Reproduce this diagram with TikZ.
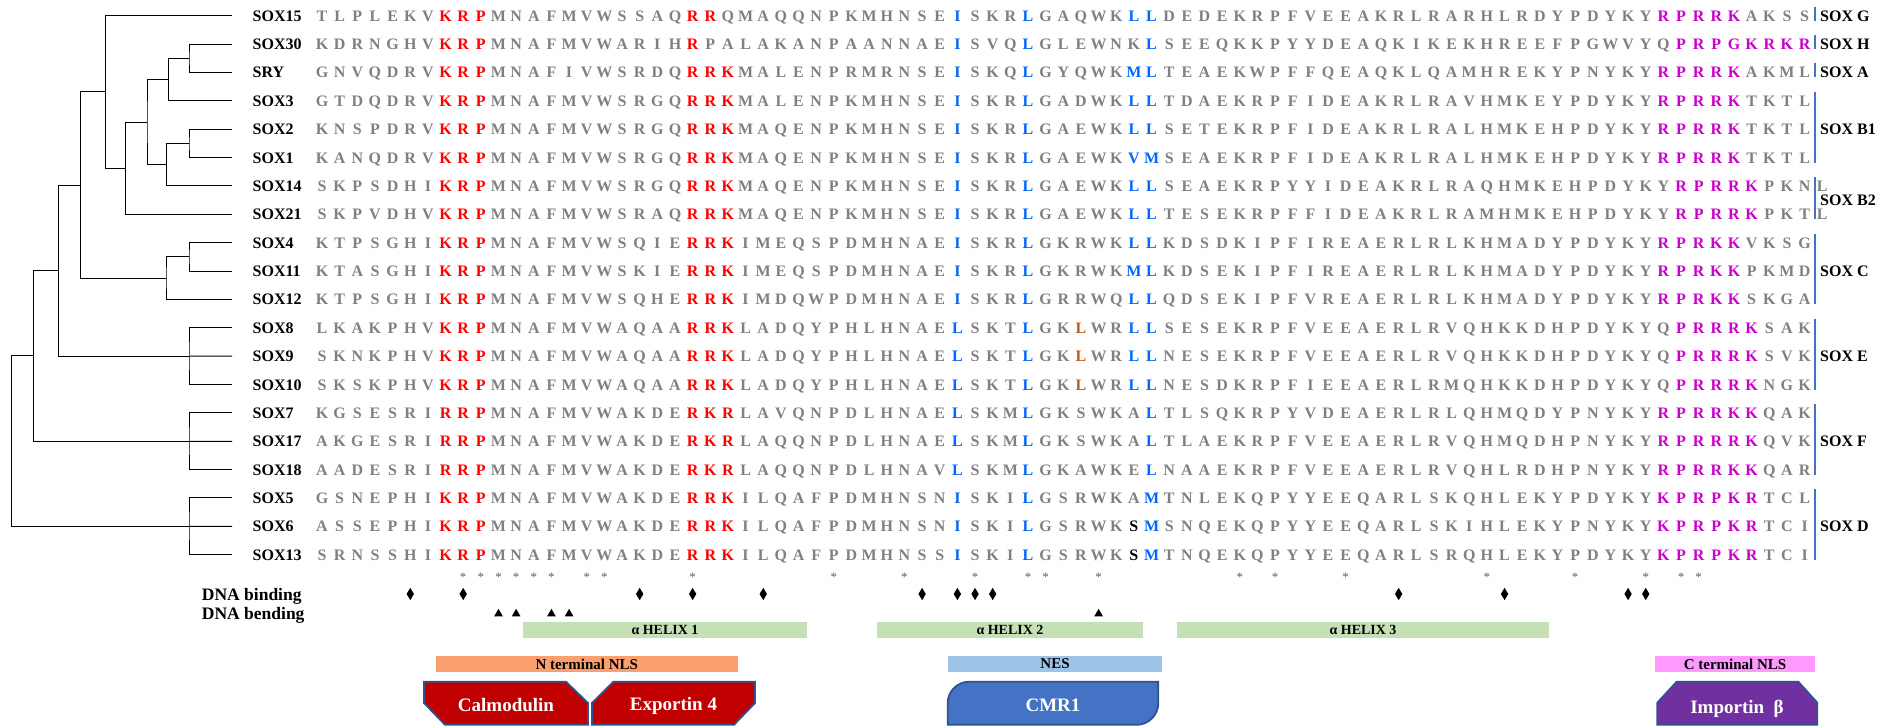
\documentclass[tikz,border=0pt]{standalone}
\usepackage{fontspec}
\setmainfont{Liberation Serif}
\usetikzlibrary{shapes.geometric}
\definecolor{cG}{RGB}{128,128,128}
\definecolor{cr}{RGB}{255,0,0}
\definecolor{cb}{RGB}{0,102,255}
\definecolor{cm}{RGB}{204,0,204}
\definecolor{co}{RGB}{197,90,17}
\definecolor{ck}{RGB}{0,0,0}
\definecolor{stargray}{RGB}{95,95,95}
\definecolor{barblue}{RGB}{68,114,196}
\definecolor{helixc}{RGB}{197,224,180}
\definecolor{nnlsc}{RGB}{250,160,110}
\definecolor{nesc}{RGB}{157,195,230}
\definecolor{cnlsc}{RGB}{255,153,255}
\definecolor{shapeedge}{RGB}{47,82,143}
\definecolor{calred}{RGB}{192,0,0}
\definecolor{cmrblue}{RGB}{68,114,196}
\definecolor{imppurple}{RGB}{112,48,160}
\def\rtok#1#2\relax{\ifx\relax#2\relax\def\rc{cG}\def\rl{#1}\else\def\rc{c#1}\def\rl{#2}\fi}
\newcommand\seqrow[3]{%
  \pgfmathsetmacro\ry{15.7+28.37*#1}%
  \node[lab] (n#2) at (252.5,\ry+5.5) {#2};%
  \foreach \t [count=\c] in {#3}{%
    \expandafter\rtok\t\relax
    \node[res,text=\rc] (r#1-\c) at ({322+(\c-1)*17.65},\ry+5.5) {\rl};%
  }%
}
\newcommand\colx[1]{322+(#1-1)*17.65}
\begin{document}
\begin{tikzpicture}[x=1pt,y=-1pt,
  res/.style={inner sep=0pt,anchor=base,font=\bfseries\fontsize{16}{16}\selectfont},
  lab/.style={inner sep=0pt,anchor=base west,font=\bfseries\fontsize{16}{16}\selectfont},
  grp/.style={inner sep=0pt,anchor=base west,font=\bfseries\fontsize{16}{16}\selectfont},
  asterisk/.style={inner sep=0pt,anchor=base,text=stargray,font=\fontsize{13}{13}\selectfont},
  dnab/.style={diamond,fill=black,inner sep=0pt,minimum width=7.5pt,minimum height=12.5pt},
  dnabend/.style={regular polygon,regular polygon sides=3,fill=black,inner sep=0pt,minimum size=10pt},
  tree/.style={line width=1pt,black},
  gbar/.style={line width=2pt,barblue},
  band/.style={inner sep=0pt,font=\bfseries\fontsize{14}{14}\selectfont,minimum height=16pt},
  nls/.style={inner sep=0pt,font=\bfseries\fontsize{15}{15}\selectfont,minimum height=16pt},
  shapetext/.style={text=white,inner sep=0pt,font=\bfseries\fontsize{19}{19}\selectfont},
  shp/.style={draw=shapeedge,line width=1.8pt},
  side/.style={inner sep=0pt,anchor=base west,font=\bfseries\fontsize{17.5}{17.5}\selectfont}]
\useasboundingbox (0,0) rectangle (1885,726);

% ---------------- sequences ----------------
\seqrow{0}{SOX15}{T,L,P,L,E,K,V,rK,rR,rP,M,N,A,F,M,V,W,S,S,A,Q,rR,rR,Q,M,A,Q,Q,N,P,K,M,H,N,S,E,bI,S,K,R,bL,G,A,Q,W,K,bL,bL,D,E,D,E,K,R,P,F,V,E,E,A,K,R,L,R,A,R,H,L,R,D,Y,P,D,Y,K,Y,mR,mP,mR,mR,mK,A,K,S,S}
\seqrow{1}{SOX30}{K,D,R,N,G,H,V,rK,rR,rP,M,N,A,F,M,V,W,A,R,I,H,rR,P,A,L,A,K,A,N,P,A,A,N,N,A,E,bI,S,V,Q,bL,G,L,E,W,N,K,bL,S,E,E,Q,K,K,P,Y,Y,D,E,A,Q,K,I,K,E,K,H,R,E,E,F,P,G,W,V,Y,Q,mP,mR,mP,mG,mK,mR,mK,mR}
\seqrow{2}{SRY}{G,N,V,Q,D,R,V,rK,rR,rP,M,N,A,F,I,V,W,S,R,D,Q,rR,rR,rK,M,A,L,E,N,P,R,M,R,N,S,E,bI,S,K,Q,bL,G,Y,Q,W,K,bM,bL,T,E,A,E,K,W,P,F,F,Q,E,A,Q,K,L,Q,A,M,H,R,E,K,Y,P,N,Y,K,Y,mR,mP,mR,mR,mK,A,K,M,L}
\seqrow{3}{SOX3}{G,T,D,Q,D,R,V,rK,rR,rP,M,N,A,F,M,V,W,S,R,G,Q,rR,rR,rK,M,A,L,E,N,P,K,M,H,N,S,E,bI,S,K,R,bL,G,A,D,W,K,bL,bL,T,D,A,E,K,R,P,F,I,D,E,A,K,R,L,R,A,V,H,M,K,E,Y,P,D,Y,K,Y,mR,mP,mR,mR,mK,T,K,T,L}
\seqrow{4}{SOX2}{K,N,S,P,D,R,V,rK,rR,rP,M,N,A,F,M,V,W,S,R,G,Q,rR,rR,rK,M,A,Q,E,N,P,K,M,H,N,S,E,bI,S,K,R,bL,G,A,E,W,K,bL,bL,S,E,T,E,K,R,P,F,I,D,E,A,K,R,L,R,A,L,H,M,K,E,H,P,D,Y,K,Y,mR,mP,mR,mR,mK,T,K,T,L}
\seqrow{5}{SOX1}{K,A,N,Q,D,R,V,rK,rR,rP,M,N,A,F,M,V,W,S,R,G,Q,rR,rR,rK,M,A,Q,E,N,P,K,M,H,N,S,E,bI,S,K,R,bL,G,A,E,W,K,bV,bM,S,E,A,E,K,R,P,F,I,D,E,A,K,R,L,R,A,L,H,M,K,E,H,P,D,Y,K,Y,mR,mP,mR,mR,mK,T,K,T,L}
\seqrow{6}{SOX14}{S,K,P,S,D,H,I,rK,rR,rP,M,N,A,F,M,V,W,S,R,G,Q,rR,rR,rK,M,A,Q,E,N,P,K,M,H,N,S,E,bI,S,K,R,bL,G,A,E,W,K,bL,bL,S,E,A,E,K,R,P,Y,Y,I,D,E,A,K,R,L,R,A,Q,H,M,K,E,H,P,D,Y,K,Y,mR,mP,mR,mR,mK,P,K,N,L}
\seqrow{7}{SOX21}{S,K,P,V,D,H,V,rK,rR,rP,M,N,A,F,M,V,W,S,R,A,Q,rR,rR,rK,M,A,Q,E,N,P,K,M,H,N,S,E,bI,S,K,R,bL,G,A,E,W,K,bL,bL,T,E,S,E,K,R,P,F,F,I,D,E,A,K,R,L,R,A,M,H,M,K,E,H,P,D,Y,K,Y,mR,mP,mR,mR,mK,P,K,T,L}
\seqrow{8}{SOX4}{K,T,P,S,G,H,I,rK,rR,rP,M,N,A,F,M,V,W,S,Q,I,E,rR,rR,rK,I,M,E,Q,S,P,D,M,H,N,A,E,bI,S,K,R,bL,G,K,R,W,K,bL,bL,K,D,S,D,K,I,P,F,I,R,E,A,E,R,L,R,L,K,H,M,A,D,Y,P,D,Y,K,Y,mR,mP,mR,mK,mK,V,K,S,G}
\seqrow{9}{SOX11}{K,T,A,S,G,H,I,rK,rR,rP,M,N,A,F,M,V,W,S,K,I,E,rR,rR,rK,I,M,E,Q,S,P,D,M,H,N,A,E,bI,S,K,R,bL,G,K,R,W,K,bM,bL,K,D,S,E,K,I,P,F,I,R,E,A,E,R,L,R,L,K,H,M,A,D,Y,P,D,Y,K,Y,mR,mP,mR,mK,mK,P,K,M,D}
\seqrow{10}{SOX12}{K,T,P,S,G,H,I,rK,rR,rP,M,N,A,F,M,V,W,S,Q,H,E,rR,rR,rK,I,M,D,Q,W,P,D,M,H,N,A,E,bI,S,K,R,bL,G,R,R,W,Q,bL,bL,Q,D,S,E,K,I,P,F,V,R,E,A,E,R,L,R,L,K,H,M,A,D,Y,P,D,Y,K,Y,mR,mP,mR,mK,mK,S,K,G,A}
\seqrow{11}{SOX8}{L,K,A,K,P,H,V,rK,rR,rP,M,N,A,F,M,V,W,A,Q,A,A,rR,rR,rK,L,A,D,Q,Y,P,H,L,H,N,A,E,bL,S,K,T,bL,G,K,oL,W,R,bL,bL,S,E,S,E,K,R,P,F,V,E,E,A,E,R,L,R,V,Q,H,K,K,D,H,P,D,Y,K,Y,Q,mP,mR,mR,mR,mK,S,A,K}
\seqrow{12}{SOX9}{S,K,N,K,P,H,V,rK,rR,rP,M,N,A,F,M,V,W,A,Q,A,A,rR,rR,rK,L,A,D,Q,Y,P,H,L,H,N,A,E,bL,S,K,T,bL,G,K,oL,W,R,bL,bL,N,E,S,E,K,R,P,F,V,E,E,A,E,R,L,R,V,Q,H,K,K,D,H,P,D,Y,K,Y,Q,mP,mR,mR,mR,mK,S,V,K}
\seqrow{13}{SOX10}{S,K,S,K,P,H,V,rK,rR,rP,M,N,A,F,M,V,W,A,Q,A,A,rR,rR,rK,L,A,D,Q,Y,P,H,L,H,N,A,E,bL,S,K,T,bL,G,K,oL,W,R,bL,bL,N,E,S,D,K,R,P,F,I,E,E,A,E,R,L,R,M,Q,H,K,K,D,H,P,D,Y,K,Y,Q,mP,mR,mR,mR,mK,N,G,K}
\seqrow{14}{SOX7}{K,G,S,E,S,R,I,rR,rR,rP,M,N,A,F,M,V,W,A,K,D,E,rR,rK,rR,L,A,V,Q,N,P,D,L,H,N,A,E,bL,S,K,M,bL,G,K,S,W,K,A,bL,T,L,S,Q,K,R,P,Y,V,D,E,A,E,R,L,R,L,Q,H,M,Q,D,Y,P,N,Y,K,Y,mR,mP,mR,mR,mK,mK,Q,A,K}
\seqrow{15}{SOX17}{A,K,G,E,S,R,I,rR,rR,rP,M,N,A,F,M,V,W,A,K,D,E,rR,rK,rR,L,A,Q,Q,N,P,D,L,H,N,A,E,bL,S,K,M,bL,G,K,S,W,K,A,bL,T,L,A,E,K,R,P,F,V,E,E,A,E,R,L,R,V,Q,H,M,Q,D,H,P,N,Y,K,Y,mR,mP,mR,mR,mR,mK,Q,V,K}
\seqrow{16}{SOX18}{A,A,D,E,S,R,I,rR,rR,rP,M,N,A,F,M,V,W,A,K,D,E,rR,rK,rR,L,A,Q,Q,N,P,D,L,H,N,A,V,bL,S,K,M,bL,G,K,A,W,K,E,bL,N,A,A,E,K,R,P,F,V,E,E,A,E,R,L,R,V,Q,H,L,R,D,H,P,N,Y,K,Y,mR,mP,mR,mR,mK,mK,Q,A,R}
\seqrow{17}{SOX5}{G,S,N,E,P,H,I,rK,rR,rP,M,N,A,F,M,V,W,A,K,D,E,rR,rR,rK,I,L,Q,A,F,P,D,M,H,N,S,N,bI,S,K,I,bL,G,S,R,W,K,A,bM,T,N,L,E,K,Q,P,Y,Y,E,E,Q,A,R,L,S,K,Q,H,L,E,K,Y,P,D,Y,K,Y,mK,mP,mR,mP,mK,mR,T,C,L}
\seqrow{18}{SOX6}{A,S,S,E,P,H,I,rK,rR,rP,M,N,A,F,M,V,W,A,K,D,E,rR,rR,rK,I,L,Q,A,F,P,D,M,H,N,S,N,bI,S,K,I,bL,G,S,R,W,K,kS,bM,S,N,Q,E,K,Q,P,Y,Y,E,E,Q,A,R,L,S,K,I,H,L,E,K,Y,P,N,Y,K,Y,mK,mP,mR,mP,mK,mR,T,C,I}
\seqrow{19}{SOX13}{S,R,N,S,S,H,I,rK,rR,rP,M,N,A,F,M,V,W,A,K,D,E,rR,rR,rK,I,L,Q,A,F,P,D,M,H,N,S,S,bI,S,K,I,bL,G,S,R,W,K,kS,bM,T,N,Q,E,K,Q,P,Y,Y,E,E,Q,A,R,L,S,R,Q,H,L,E,K,Y,P,D,Y,K,Y,mK,mP,mR,mP,mK,mR,T,C,I}

% ---------------- tree ----------------
\foreach \i in {0,...,19}{\coordinate (t\i) at (232,{15.7+28.37*\i});}
\coordinate (n10) at (189,58.26);
\coordinate (n9) at (168.7,79.53);
\coordinate (n12) at (189,143.37);
\coordinate (n11) at (166.7,164.64);
\coordinate (n8) at (147,122.09);
\coordinate (n7) at (125.7,168.19);
\coordinate (n6) at (105.7,91.95);
\coordinate (n5) at (189,256.85);
\coordinate (n4) at (166,278.12);
\coordinate (n3) at (80.7,185.03);
\coordinate (nE) at (189,356.14);
\coordinate (n2) at (58.7,270.59);
\coordinate (nF) at (189,441.25);
\coordinate (n1) at (33.7,355.92);
\coordinate (nD) at (189,526.36);
\coordinate (n0) at (11.7,441.14);
\draw[tree] (t1) -| (n10) |- (t2);
\draw[tree] (n10) -| (n9) |- (t3);
\draw[tree] (t4) -| (n12) |- (t5);
\draw[tree] (n12) -| (n11) |- (t6);
\draw[tree] (n9) -| (n8) |- (n11);
\draw[tree] (n8) -| (n7) |- (t7);
\draw[tree] (t0) -| (n6) |- (n7);
\draw[tree] (t8) -| (n5) |- (t9);
\draw[tree] (n5) -| (n4) |- (t10);
\draw[tree] (n6) -| (n3) |- (n4);
\draw[tree] (t11) -| (nE) |- (t13);
\draw[tree] (nE) -- (t12);
\draw[tree] (n3) -| (n2) |- (nE);
\draw[tree] (t14) -| (nF) |- (t16);
\draw[tree] (nF) -- (t15);
\draw[tree] (n2) -| (n1) |- (nF);
\draw[tree] (t17) -| (nD) |- (t19);
\draw[tree] (nD) -- (t18);
\draw[tree] (n1) -| (n0) |- (nD);

% ---------------- group bars and labels ----------------
\draw[gbar] (1815,6.7) -- (1815,20.7);
\draw[gbar] (1815,35.1) -- (1815,49.1);
\draw[gbar] (1815,63.4) -- (1815,77.4);
\draw[gbar] (1815,91.8) -- (1815,162.6);
\draw[gbar] (1815,176.9) -- (1815,219.3);
\draw[gbar] (1815,233.7) -- (1815,304.4);
\draw[gbar] (1815,318.8) -- (1815,389.5);
\draw[gbar] (1815,403.9) -- (1815,474.6);
\draw[gbar] (1815,489) -- (1815,559.7);
\node[grp] (gG) at (1820,21.2) {SOX G};
\node[grp] (gH) at (1820,49.6) {SOX H};
\node[grp] (gA) at (1820,77.9) {SOX A};
\node[grp] (gB1) at (1820,134.7) {SOX B1};
\node[grp] (gB2) at (1820,205.6) {SOX B2};
\node[grp] (gC) at (1820,276.5) {SOX C};
\node[grp] (gE) at (1820,361.6) {SOX E};
\node[grp] (gF) at (1820,446.8) {SOX F};
\node[grp] (gD) at (1820,531.9) {SOX D};

% ---------------- conservation / DNA marks ----------------
\foreach \c in {9,10,11,12,13,14,16,17,22,30,34,38,41,42,45,53,55,59,67,72,76,78,79}
  \node[asterisk] (s\c) at ({\colx{\c}},581) {*};
\node[side] (lbind) at (201.7,600) {DNA binding};
\node[side] (lbend) at (201.7,619) {DNA bending};
\foreach \c in {6,9,19,22,26,35,37,38,39,62,68,75,76}
  \node[dnab] (d\c) at ({\colx{\c}},594) {};
\foreach \c in {11,12,14,15,45}
  \node[dnabend] (b\c) at ({\colx{\c}},613.8) {};

% ---------------- helices and signals ----------------
\node[band,fill=helixc,minimum width=284pt] (h1) at (665,629.7) {α HELIX 1};
\node[band,fill=helixc,minimum width=266pt] (h2) at (1010,629.7) {α HELIX 2};
\node[band,fill=helixc,minimum width=372pt] (h3) at (1363,629.7) {α HELIX 3};
\node[nls,fill=nnlsc,minimum width=302.5pt] (nnls) at (586.75,664) {N terminal NLS};
\node[nls,fill=nesc,minimum width=214pt] (nes) at (1055,664) {NES};
\node[nls,fill=cnlsc,minimum width=160pt] (cnls) at (1735,664) {C terminal NLS};

% ---------------- interacting proteins ----------------
\draw[shp,fill=calred] (424,681.7) -- (566,681.7) -- (588,703) -- (588,724.8) -- (445,724.8) -- (424,703) -- cycle;
\node[shapetext] (calm) at (506,705.5) {Calmodulin};
\draw[shp,fill=calred] (613.4,681.7) -- (755,681.7) -- (755,703) -- (734,724.8) -- (592,724.8) -- (592,703) -- cycle;
\node[shapetext] (expo) at (673.5,705.5) {Exportin 4};
\draw[shp,fill=cmrblue] (947.7,724.8) -- (947.7,703) .. controls (947.7,691.2) and (957.5,681.7) .. (969.3,681.7) -- (1158.3,681.7) -- (1158.3,703) .. controls (1158.3,715) and (1148.5,724.8) .. (1136.7,724.8) -- cycle;
\node[shapetext] (cmr) at (1053,705) {CMR1};
\draw[shp,fill=imppurple] (1657.3,724.8) -- (1657.3,702.7) -- (1676.7,681.7) -- (1798.3,681.7) -- (1817.3,702.7) -- (1817.3,724.8) -- cycle;
\node[shapetext] (imp) at (1737,709) {Importin\enspace β};
\end{tikzpicture}
\end{document}
